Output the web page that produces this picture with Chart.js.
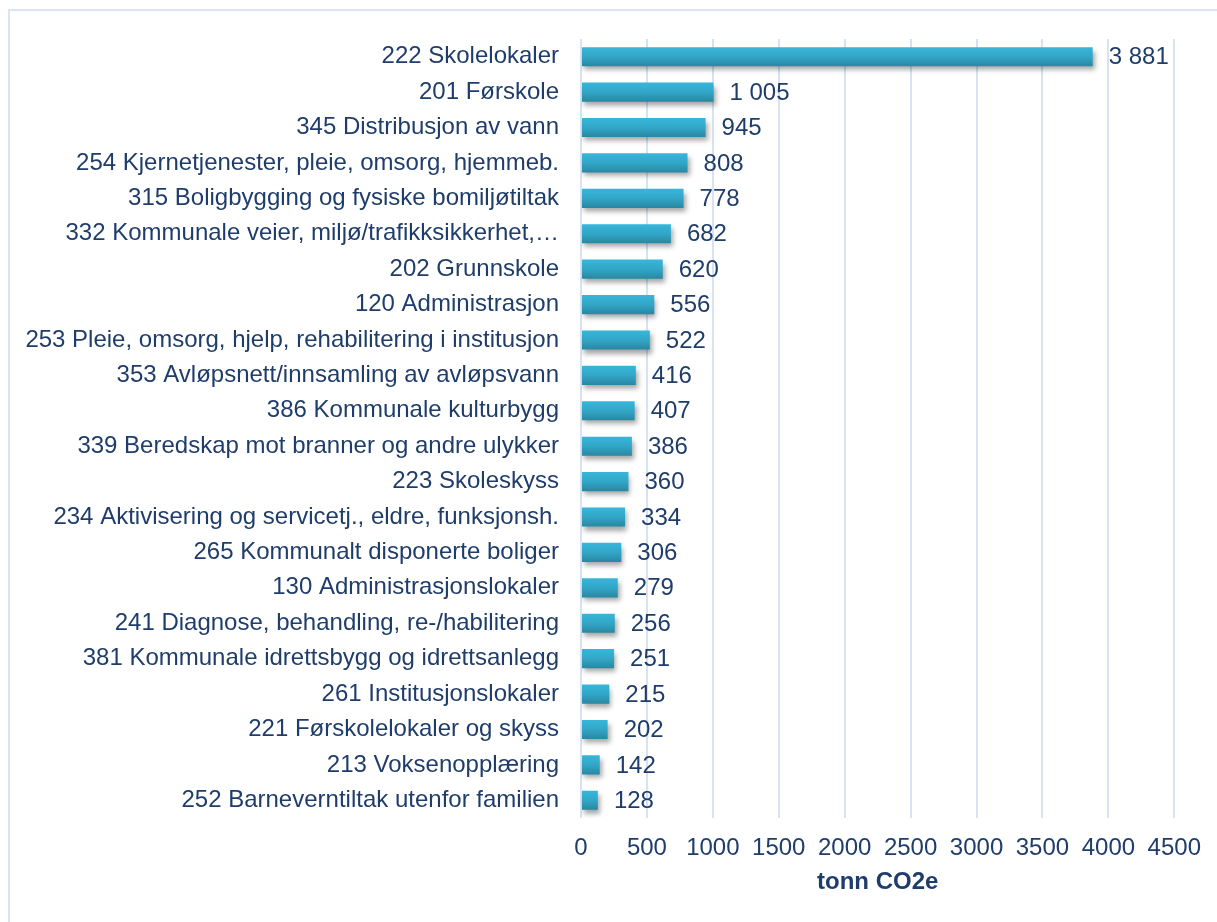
<!DOCTYPE html>
<html>
<head>
<meta charset="utf-8">
<script src="https://cdn.jsdelivr.net/npm/chart.js@4.4.1/dist/chart.umd.min.js"></script>
<style>
  html, body { margin: 0; padding: 0; background: #fff; }
  #wrap { position: relative; width: 1217px; height: 922px; }
  #frame { position: absolute; left: 8px; top: 9px; right: -10px; bottom: -10px;
           border-left: 2px solid #d9e3f3; border-top: 2px solid #d9e3f3; }
  canvas { position: absolute; left: 0; top: 0; }
</style>
</head>
<body>
<div id="wrap">
  <div id="frame"></div>
  <canvas id="chart" width="1217" height="922"></canvas>
</div>
<script>
const categories = [
  '222 Skolelokaler',
  '201 Førskole',
  '345 Distribusjon av vann',
  '254 Kjernetjenester, pleie, omsorg, hjemmeb.',
  '315 Boligbygging og fysiske bomiljøtiltak',
  '332 Kommunale veier, miljø/trafikksikkerhet,…',
  '202 Grunnskole',
  '120 Administrasjon',
  '253 Pleie, omsorg, hjelp, rehabilitering i institusjon',
  '353 Avløpsnett/innsamling av avløpsvann',
  '386 Kommunale kulturbygg',
  '339 Beredskap mot branner og andre ulykker',
  '223 Skoleskyss',
  '234 Aktivisering og servicetj., eldre, funksjonsh.',
  '265 Kommunalt disponerte boliger',
  '130 Administrasjonslokaler',
  '241 Diagnose, behandling, re-/habilitering',
  '381 Kommunale idrettsbygg og idrettsanlegg',
  '261 Institusjonslokaler',
  '221 Førskolelokaler og skyss',
  '213 Voksenopplæring',
  '252 Barneverntiltak utenfor familien'
];
const emissions = [3881, 1005, 945, 808, 778, 682, 620, 556, 522, 416, 407, 386, 360, 334, 306, 279, 256, 251, 215, 202, 142, 128];
const xTicks = [0, 500, 1000, 1500, 2000, 2500, 3000, 3500, 4000, 4500];
const axisTitle = 'tonn CO2e';

const textColor = '#1f3d6b';
const fontFamily = '"Liberation Sans", Arial, sans-serif';
const fontSize = 24;

// "3 881" style thousands separator
function fmt(v) {
  return String(v).replace(/\B(?=(\d{3})+(?!\d))/g, ' ');
}

function barGradient(ctx) {
  const chart = ctx.chart;
  const y = chart.scales.y;
  if (!y || ctx.dataIndex === undefined) return '#33a9cc';
  const c = y.getPixelForTick(ctx.dataIndex);
  const g = chart.ctx.createLinearGradient(0, c - 10, 0, c + 10);
  g.addColorStop(0, '#38b7db');
  g.addColorStop(0.5, '#32a6c7');
  g.addColorStop(1, '#2886a0');
  return g;
}

const barExtras = {
  id: 'barExtras',
  beforeDatasetsDraw(chart) {
    const ctx = chart.ctx;
    ctx.save();
    ctx.shadowColor = 'rgba(0, 0, 0, 0.35)';
    ctx.shadowBlur = 5;
    ctx.shadowOffsetX = 2;
    ctx.shadowOffsetY = 4;
  },
  afterDatasetsDraw(chart) {
    const ctx = chart.ctx;
    ctx.restore();
    const meta = chart.getDatasetMeta(0);
    ctx.save();
    ctx.font = fontSize + 'px ' + fontFamily;
    ctx.fillStyle = textColor;
    ctx.textAlign = 'left';
    ctx.textBaseline = 'middle';
    meta.data.forEach((bar, i) => {
      ctx.fillText(fmt(emissions[i]), bar.x + 16, bar.y + 1);
    });
    ctx.restore();
  }
};

new Chart(document.getElementById('chart'), {
  type: 'bar',
  data: {
    labels: categories,
    datasets: [{
      data: emissions,
      backgroundColor: barGradient,
      borderWidth: 0,
      barPercentage: 0.54,
      categoryPercentage: 1
    }]
  },
  options: {
    indexAxis: 'y',
    responsive: false,
    animation: false,
    layout: { padding: { top: 39, right: 42, bottom: 0, left: 0 } },
    plugins: {
      legend: { display: false },
      tooltip: { enabled: false }
    },
    scales: {
      y: {
        afterFit: (s) => { s.width = 581; },
        grid: { display: false, drawTicks: false },
        border: { display: false },
        ticks: {
          padding: 22,
          color: textColor,
          font: { family: fontFamily, size: fontSize },
          autoSkip: false
        }
      },
      x: {
        min: 0,
        max: 4500,
        afterFit: (s) => { s.height = 104; },
        afterBuildTicks: (s) => { s.ticks = xTicks.map(v => ({ value: v })); },
        grid: { color: '#d7e2f2', lineWidth: 2, drawTicks: false },
        border: { display: false },
        ticks: {
          padding: 16,
          color: textColor,
          font: { family: fontFamily, size: fontSize },
          maxRotation: 0,
          callback: (v) => String(v)
        },
        title: {
          display: true,
          text: axisTitle,
          color: textColor,
          font: { family: fontFamily, size: fontSize, weight: 'bold' },
          padding: { top: 0, bottom: 25 }
        }
      }
    }
  },
  plugins: [barExtras]
});
</script>
</body>
</html>
